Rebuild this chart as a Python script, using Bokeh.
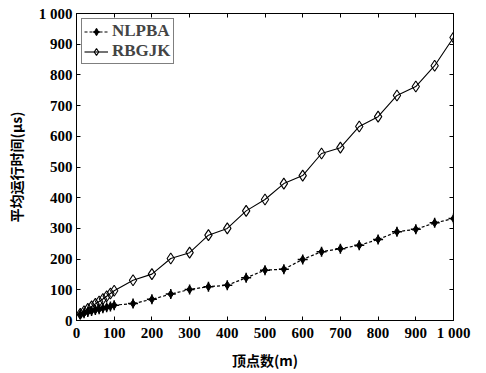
from bokeh.plotting import figure
from bokeh.models import LinearAxis, Legend, LegendItem, FixedTicker, Range1d
from bokeh.embed import file_html
from bokeh.resources import INLINE

x_vals = [10, 20, 30, 40, 50, 60, 70, 80, 90, 100, 150, 200, 250, 300, 350, 400, 450, 500,
          550, 600, 650, 700, 750, 800, 850, 900, 950, 1000]
nlpba = [20, 24, 28, 31, 34, 37, 40, 43, 46, 50, 55, 69, 86, 101, 110, 115, 139, 164,
         167, 199, 224, 234, 245, 264, 289, 297, 318, 332]
rbgjk = [22, 30, 38, 46, 54, 62, 70, 79, 88, 97, 131, 151, 202, 221, 278, 300, 357, 394,
         446, 472, 544, 563, 632, 664, 733, 762, 830, 922]

ticks = [0, 100, 200, 300, 400, 500, 600, 700, 800, 900, 1000]
tick_labels = {t: ("1 000" if t == 1000 else str(t)) for t in ticks}

SERIF = "Liberation Serif"
CJK = "Noto Sans CJK SC"

p = figure(frame_width=377, frame_height=307, output_backend="svg", toolbar_location=None,
           x_range=Range1d(0, 1000), y_range=Range1d(0, 1000),
           min_border_left=76, min_border_right=25, min_border_top=13, min_border_bottom=10)
p.grid.visible = False
p.background_fill_color = "white"
p.outline_line_color = "black"
p.outline_line_width = 1

for ax in (p.xaxis[0], p.yaxis[0]):
    ax.ticker = FixedTicker(ticks=ticks)
    ax.major_label_overrides = tick_labels
    ax.major_label_text_font = SERIF
    ax.major_label_text_font_style = "bold"
    ax.major_label_text_font_size = "15px"
    ax.major_label_text_color = "black"
    ax.major_tick_in = 4
    ax.major_tick_out = 0
    ax.minor_tick_in = 0
    ax.minor_tick_out = 0
    ax.axis_line_color = "black"
    ax.major_label_standoff = 4
    ax.axis_label_text_font = CJK
    ax.axis_label_text_font_style = "bold"
    ax.axis_label_text_font_size = "14px"
    ax.axis_label_text_color = "black"

p.xaxis[0].axis_label = "顶点数(m)"
p.yaxis[0].axis_label = "平均运行时间(μs)"
p.xaxis[0].axis_label_standoff = 6
p.yaxis[0].axis_label_standoff = 10

for side in ("above", "right"):
    ax = LinearAxis(ticker=FixedTicker(ticks=ticks), major_tick_in=4, major_tick_out=0,
                    minor_tick_in=0, minor_tick_out=0,
                    major_label_overrides={t: "" for t in ticks},
                    major_label_standoff=0, axis_line_color="black")
    p.add_layout(ax, side)

l1 = p.line(x_vals, nlpba, line_color="black", line_width=1.2, line_dash="3 2")
m1a = p.scatter(x_vals, nlpba, marker="diamond", size=8, fill_color="black", line_color="black")
m1b = p.scatter(x_vals, nlpba, marker="cross", size=10, line_color="black", line_width=1.5)

l2 = p.line(x_vals, rbgjk, line_color="black", line_width=1.1)
m2 = p.scatter(x_vals, rbgjk, marker="diamond", size=11, fill_alpha=0, line_color="black", line_width=1.1)

legend = Legend(items=[LegendItem(label="NLPBA", renderers=[l1, m1a, m1b]),
                       LegendItem(label="RBGJK", renderers=[l2, m2])],
                location="top_left", border_line_color="black", border_line_width=1,
                label_text_font=SERIF, label_text_font_style="bold",
                label_text_font_size="17px", label_height=17, glyph_height=17,
                glyph_width=24, spacing=0, padding=2, margin=5, label_standoff=4)
p.add_layout(legend)

open("out.html", "w").write(file_html(p, INLINE))
